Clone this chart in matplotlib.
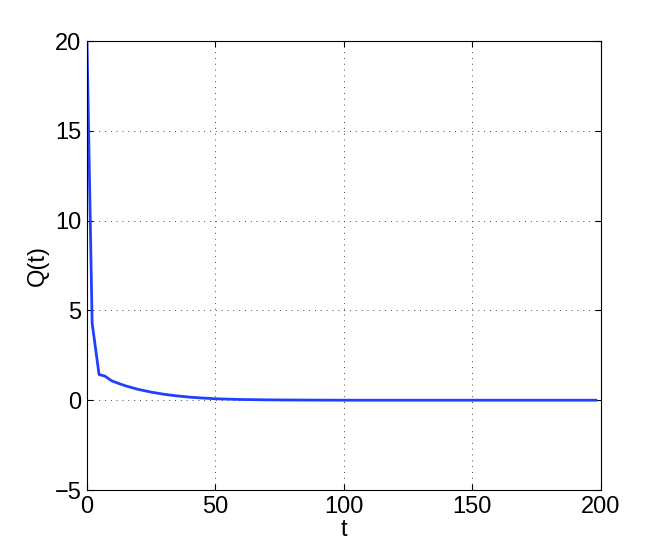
import matplotlib
matplotlib.use("Agg")
import matplotlib.pyplot as plt

# values
t = [0, 2, 4.7, 7, 9.6, 12, 15, 20, 25, 30, 35, 40, 45, 50, 55, 60, 70, 80, 100, 150, 198]
q = [20, 4.3, 1.43, 1.34, 1.08, 0.95, 0.8, 0.6, 0.45, 0.33, 0.24, 0.17, 0.12, 0.08, 0.06, 0.04, 0.02, 0.01, 0.0, 0.0, 0.0]

plt.rcParams['font.family'] = ['Liberation Sans', 'DejaVu Sans']

fig = plt.figure(figsize=(6.64, 5.52), dpi=100)
ax = fig.add_axes([0.131, 0.1123, 0.774, 0.8134])

ax.plot(t, q, color='#2040ff', linewidth=2)

ax.set_xlim(0, 200)
ax.set_ylim(-5, 20)
ax.set_xticks([0, 50, 100, 150, 200])
ax.set_yticks([-5, 0, 5, 10, 15, 20])
ax.set_yticklabels(['\u22125', '0', '5', '10', '15', '20'])
ax.grid(True, linestyle=(0, (1, 5)), color='#444444', linewidth=0.7)
ax.tick_params(direction='in', labelsize=17, top=True, right=True, length=4, pad=4)
ax.set_xlabel('t', fontsize=17, labelpad=1)
ax.set_ylabel('Q(t)', fontsize=17, labelpad=4)
for s in ax.spines.values():
    s.set_linewidth(0.8)

fig.savefig('out.png', dpi=100)
